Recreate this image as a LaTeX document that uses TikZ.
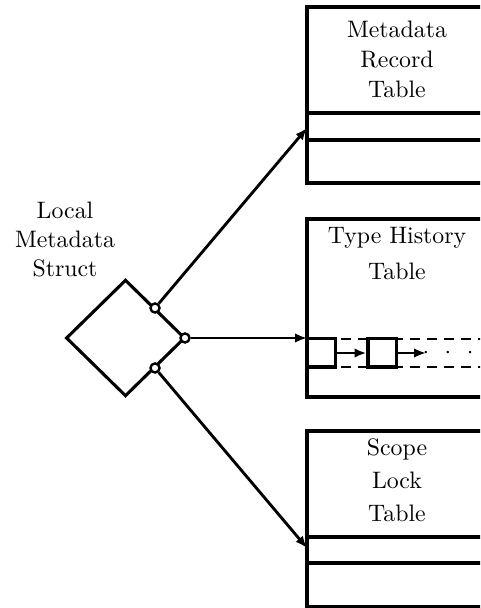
\documentclass[tikz,border=0pt]{standalone}
\usetikzlibrary{arrows.meta,shapes.geometric}
\begin{document}
\begin{tikzpicture}[x=0.42pt,y=-0.42pt,
  line width=1.3pt,
  tbl/.style={draw,line width=1.3pt},
  lbl/.style={align=center,anchor=north,inner sep=0pt,font=\fontsize{10}{#1}\selectfont},
  port/.style={circle,draw,fill=white,line width=1pt,inner sep=0pt,minimum size=3.8pt},
  cell/.style={draw,fill=white,line width=1.3pt,inner sep=0pt,minimum width=11.8pt,minimum height=11.8pt},
  conn/.style={-{Latex[length=5pt,width=4pt]},line width=1.2pt}]
\useasboundingbox (0,0) rectangle (480,608);
\clip (0,0) rectangle (480,608);
% tables
\draw[tbl] (307,7) rectangle (495,183);
\draw[tbl] (307,113) -- (495,113) (307,140) -- (495,140);
\draw[tbl] (307,219) rectangle (495,397);
\draw[tbl] (307,431) rectangle (495,607);
\draw[tbl] (307,537) -- (495,537) (307,563) -- (495,563);
\node[lbl=12.6pt] (t1) at (397,19.5) {Metadata\\Record\\Table};
\node[lbl=15.1pt] (t2) at (397,226) {Type History\\Table};
\node[lbl=13.9pt] (t3) at (397,437) {Scope\\Lock\\Table};
% list in type history
\draw[dashed,dash pattern=on 4.2pt off 3pt,line width=1.1pt] (307,339) -- (495,339) (307,367) -- (495,367);
\node[cell] (c1) at (321,353) {};
\node[cell] (c2) at (382,353) {};
\coordinate (ce) at (426,353);
\draw[conn] (c1.east) -- (c2.west);
\draw[conn] (c2.east) -- (ce);
\node[inner sep=0pt] (dots) at (448,353) {$\cdot\hspace{4.3pt}\cdot\hspace{4.3pt}\cdot$};
% local metadata struct
\node[lbl=12.2pt] (lm) at (65,200.5) {Local\\Metadata\\Struct};
\node[diamond,draw,line width=1.3pt,inner sep=0pt,minimum width=50pt,minimum height=49pt] (d) at (125.5,338) {};
\node[port] (p1) at (155,308) {};
\node[port] (p2) at (185,338) {};
\node[port] (p3) at (155,368) {};
\coordinate (e1) at (307,128);
\coordinate (e2) at (307,338);
\coordinate (e3) at (307,548);
\draw[conn] (p1) -- (e1);
\draw[conn] (p2) -- (e2);
\draw[conn] (p3) -- (e3);
\end{tikzpicture}
\end{document}
